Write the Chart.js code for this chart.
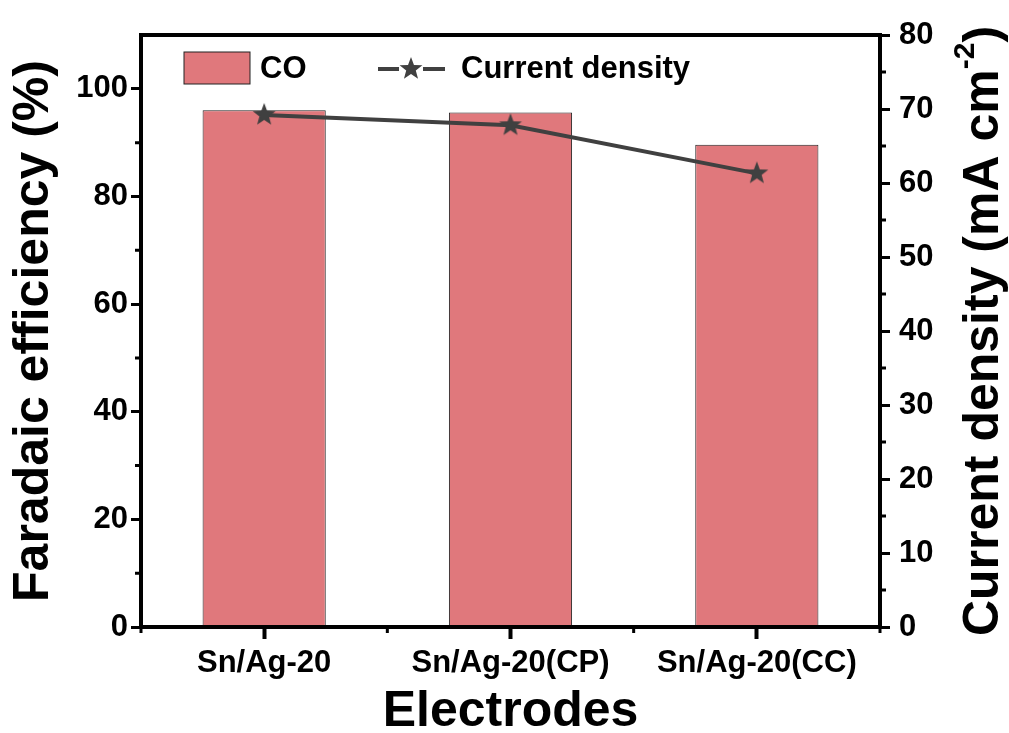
<!DOCTYPE html>
<html>
<head>
<meta charset="utf-8">
<script src="https://cdn.jsdelivr.net/npm/chart.js@4"></script>
<style>
  html, body { margin: 0; padding: 0; background: #fff; }
  #wrap { width: 1009px; height: 733px; }
</style>
</head>
<body>
<div id="wrap"><canvas id="barChart" width="1009" height="733"></canvas></div>
<script>
// data
const categories = ["Sn/Ag-20", "Sn/Ag-20(CP)", "Sn/Ag-20(CC)"];
const faradaicEff = [96.0, 95.6, 89.6];
const currentDensity = [69.2, 67.8, 61.3];
const feTicks = [0, 20, 40, 60, 80, 100];
const feMinor = [10, 30, 50, 70, 90];
const cdTicks = [0, 10, 20, 30, 40, 50, 60, 70, 80];
const cdMinor = [5, 15, 25, 35, 45, 55, 65, 75];

const barColor = "#E0787C";
const lineColor = "#404040";
const FONT = "'Liberation Sans', Arial, sans-serif";

// filled five point star for the markers
function makeStar(r) {
  const c = document.createElement("canvas");
  c.width = c.height = r * 2 + 2;
  const g = c.getContext("2d");
  g.fillStyle = lineColor;
  g.beginPath();
  for (let i = 0; i < 10; i++) {
    const rad = i % 2 === 0 ? r : r * 0.42;
    const a = -Math.PI / 2 + i * Math.PI / 5;
    g.lineTo(r + 1 + rad * Math.cos(a), r + 1 + rad * Math.sin(a));
  }
  g.closePath();
  g.fill();
  return c;
}
const star = makeStar(12);

const extras = {
  id: "extras",
  afterDraw(chart) {
    const ctx = chart.ctx;
    const a = chart.chartArea;
    const yL = chart.scales.y, yR = chart.scales.y2, x = chart.scales.x;
    ctx.save();
    ctx.strokeStyle = "#000";
    // minor ticks
    ctx.lineWidth = 3;
    ctx.beginPath();
    feMinor.forEach(v => { const p = yL.getPixelForValue(v); ctx.moveTo(a.left - 6, p); ctx.lineTo(a.left, p); });
    cdMinor.forEach(v => { const p = yR.getPixelForValue(v); ctx.moveTo(a.right, p); ctx.lineTo(a.right + 6, p); });
    const step = x.getPixelForValue(1) - x.getPixelForValue(0);
    for (let i = 0; i <= categories.length; i++) {
      const p = x.getPixelForValue(0) + (i - 0.5) * step;
      ctx.moveTo(p, a.bottom); ctx.lineTo(p, a.bottom + 6);
    }
    ctx.stroke();
    // frame
    ctx.lineWidth = 4;
    ctx.strokeRect(a.left, a.top, a.right - a.left, a.bottom - a.top);

    // legend
    ctx.fillStyle = barColor;
    ctx.fillRect(a.left + 43, a.top + 17, 66, 32);
    ctx.lineWidth = 1;
    ctx.strokeStyle = "#222";
    ctx.strokeRect(a.left + 43, a.top + 17, 66, 32);
    ctx.fillStyle = "#000";
    ctx.font = "bold 31px " + FONT;
    ctx.textBaseline = "middle";
    ctx.textAlign = "left";
    ctx.fillText(chart.data.datasets[0].label, a.left + 119, a.top + 34);
    ctx.strokeStyle = lineColor;
    ctx.lineWidth = 4;
    ctx.beginPath();
    ctx.moveTo(a.left + 237, a.top + 34); ctx.lineTo(a.left + 258, a.top + 34);
    ctx.moveTo(a.left + 282, a.top + 34); ctx.lineTo(a.left + 304, a.top + 34);
    ctx.stroke();
    ctx.drawImage(star, a.left + 270 - star.width / 2, a.top + 34 - star.height / 2);
    ctx.fillText(chart.data.datasets[1].label, a.left + 320, a.top + 34);

    // right axis title with superscript, reading bottom to top
    const main = "Current density (mA cm";
    const sup = "-2";
    const end = ")";
    ctx.font = "bold 50px " + FONT;
    const w1 = ctx.measureText(main).width;
    const w3 = ctx.measureText(end).width;
    ctx.font = "bold 30px " + FONT;
    const w2 = ctx.measureText(sup).width;
    const total = w1 + w2 + w3;
    ctx.translate(984, (a.top + a.bottom) / 2);
    ctx.rotate(-Math.PI / 2);
    ctx.fillStyle = "#000";
    ctx.textBaseline = "middle";
    let px = -total / 2;
    ctx.font = "bold 50px " + FONT;
    ctx.fillText(main, px, 0);
    px += w1;
    ctx.font = "bold 30px " + FONT;
    ctx.fillText(sup, px, -18);
    px += w2;
    ctx.font = "bold 50px " + FONT;
    ctx.fillText(end, px, 0);
    ctx.restore();
  }
};

new Chart(document.getElementById("barChart"), {
  type: "bar",
  data: {
    labels: categories,
    datasets: [
      {
        label: "CO",
        data: faradaicEff,
        yAxisID: "y",
        backgroundColor: barColor,
        borderColor: "#222",
        borderWidth: 1,
        barPercentage: 0.5,
        categoryPercentage: 1.0,
        order: 2
      },
      {
        type: "line",
        label: "Current density",
        data: currentDensity,
        yAxisID: "y2",
        borderColor: lineColor,
        borderWidth: 4,
        pointStyle: star,
        pointRadius: 12,
        order: 1
      }
    ]
  },
  options: {
    responsive: false,
    animation: false,
    layout: { padding: { top: 35, left: 0, right: 0, bottom: 0 } },
    plugins: { legend: { display: false }, tooltip: { enabled: false } },
    scales: {
      x: {
        offset: true,
        afterFit: s => { s.height = 106; },
        grid: { offset: false, drawOnChartArea: false, tickLength: 12, tickWidth: 4, tickColor: "#000" },
        border: { display: false },
        ticks: { color: "#000", padding: 6, font: { family: FONT, size: 31, weight: "bold" } },
        title: {
          display: true, text: "Electrodes", color: "#000",
          font: { family: FONT, size: 50, weight: "bold", lineHeight: 0.84 }, padding: 0
        }
      },
      y: {
        position: "left",
        min: 0, max: 110,
        afterFit: s => { s.width = 141; },
        afterBuildTicks: s => { s.ticks = feTicks.map(v => ({ value: v })); },
        grid: { drawOnChartArea: false, tickLength: 10, tickWidth: 3, tickColor: "#000" },
        border: { display: false },
        ticks: { color: "#000", padding: 3, font: { family: FONT, size: 31, weight: "bold" } },
        title: {
          display: true, text: "Faradaic efficiency (%)", color: "#000",
          font: { family: FONT, size: 50, weight: "bold" }, padding: { top: 4, bottom: 0 }
        }
      },
      y2: {
        position: "right",
        min: 0, max: 80,
        afterFit: s => { s.width = 129; },
        afterBuildTicks: s => { s.ticks = cdTicks.map(v => ({ value: v })); },
        grid: { drawOnChartArea: false, tickLength: 10, tickWidth: 3, tickColor: "#000" },
        border: { display: false },
        ticks: { color: "#000", padding: 9, font: { family: FONT, size: 31, weight: "bold" } }
      }
    }
  },
  plugins: [extras]
});
</script>
</body>
</html>
